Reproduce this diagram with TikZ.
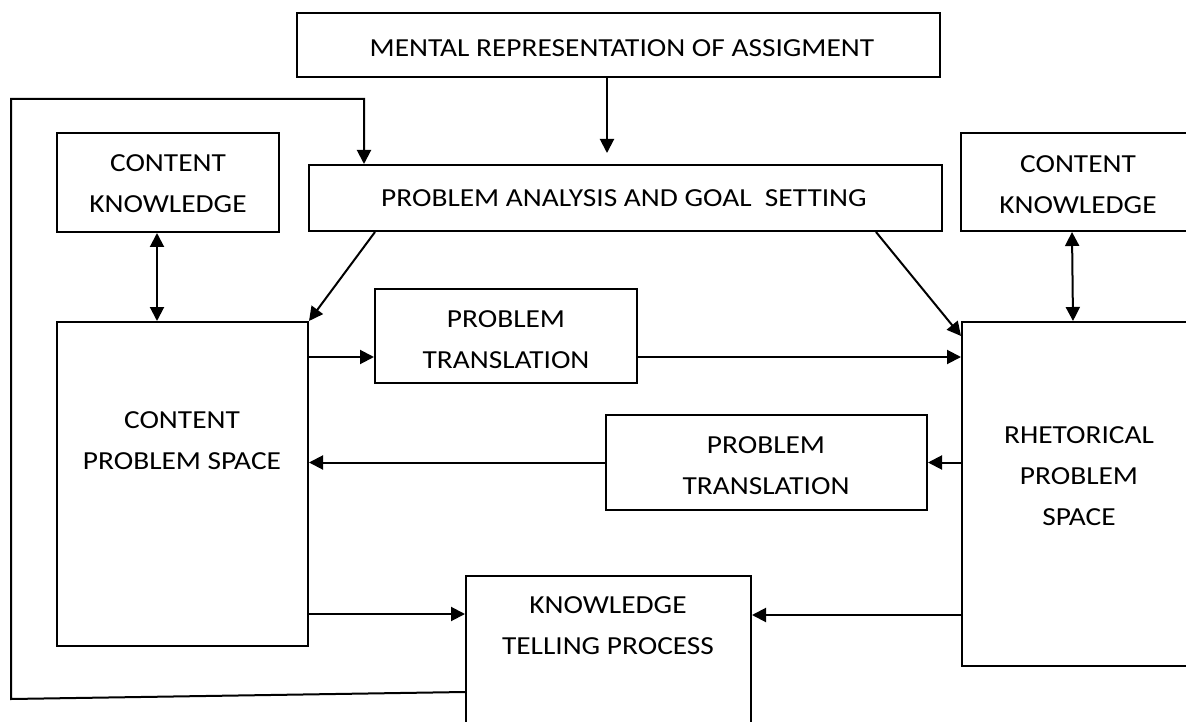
\documentclass[tikz,border=0pt]{standalone}
\usepackage{fontspec}
\setmainfont{Carlito}[FakeStretch=1.13]
\usetikzlibrary{arrows.meta,calc}
\tikzset{
  box/.style={draw, line width=2pt, inner sep=0pt, anchor=center},
  txt/.style={align=center, inner sep=0pt, font=\fontsize{26}{41}\selectfont},
  arr/.style={line width=2pt, -{Triangle[length=14pt,width=14pt]}},
  darr/.style={line width=2pt, {Triangle[length=14pt,width=14pt]}-{Triangle[length=14pt,width=14pt]}},
  ln/.style={line width=2pt}
}
\begin{document}
\begin{tikzpicture}[x=1pt,y=-1pt]
\useasboundingbox (0,0) rectangle (1186,722);
% boxes
\node[box, minimum width=643pt, minimum height=64pt] (mental) at (618.5,45) {};
\node[box, minimum width=633pt, minimum height=66pt] (pa) at (625.5,198) {};
\node[box, minimum width=222pt, minimum height=99pt] (ckl) at (168,182.5) {};
\node[box, minimum width=234pt, minimum height=98pt] (ckr) at (1078,182) {};
\node[box, minimum width=251pt, minimum height=324pt] (cps) at (182.5,484) {};
\node[box, minimum width=262pt, minimum height=94pt] (pt1) at (506,336) {};
\node[box, minimum width=321pt, minimum height=95pt] (pt2) at (766.5,462.5) {};
\node[box, minimum width=233pt, minimum height=344pt] (rps) at (1078.5,494) {};
\node[box, minimum width=285pt, minimum height=184pt] (kt) at (608.5,668) {};
% texts
\node[txt] (tmental) at (622,48) {MENTAL REPRESENTATION OF ASSIGMENT};
\node[txt] (tpa) at (624,198) {PROBLEM ANALYSIS AND GOAL\ \ SETTING};
\node[txt] (tckl) at (168,184) {CONTENT\\KNOWLEDGE};
\node[txt] (tckr) at (1078,185) {CONTENT\\KNOWLEDGE};
\node[txt] (tcps) at (182,441) {CONTENT\\PROBLEM SPACE};
\node[txt] (tpt1) at (506,340) {PROBLEM\\TRANSLATION};
\node[txt] (tpt2) at (766,466) {PROBLEM\\TRANSLATION};
\node[txt] (trps) at (1079,476) {RHETORICAL\\PROBLEM\\SPACE};
\node[txt] (tkt) at (608,626) {KNOWLEDGE\\TELLING PROCESS};
% helper coordinates
\coordinate (lbl) at (11,699);
\coordinate (ltl) at (11,99);
\coordinate (ltr) at (364,99);
\coordinate (mout) at ([xshift=-11.5pt]mental.south);
\coordinate (cklout) at ([xshift=-11pt]ckl.south);
\coordinate (pt1in) at ([yshift=-21pt]pt1.west);
\coordinate (pt1out) at ([yshift=-21pt]pt1.east);
\coordinate (ktinl) at ([yshift=-39pt]kt.north west);
\coordinate (ktinr) at ([yshift=-40pt]kt.north east);
\coordinate (ktloop) at ([yshift=-117pt]kt.north west);
% connectors
\draw[arr, shorten >=11pt] (mout) -- (mout |- pa.north);
\draw[arr] (ktloop) -- (lbl) -- (ltl) -- (ltr) -- (ltr |- pa.north);
\draw[darr] (cklout) -- (cklout |- cps.north);
\draw[darr] ([xshift=-6pt]ckr.south) -- ([xshift=-5.5pt]rps.north);
\draw[arr] ([xshift=-250.5pt]pa.south) -- (cps.north east);
\draw[arr] ([xshift=250.5pt]pa.south) -- ([yshift=-15pt]rps.north west);
\draw[arr] (cps.east |- pt1in) -- (pt1in);
\draw[arr] (pt1out) -- (rps.west |- pt1out);
\draw[arr] (rps.west |- pt2.east) -- (pt2.east);
\draw[arr] (pt2.west) -- (cps.east |- pt2.west);
\draw[arr] (cps.east |- ktinl) -- (ktinl);
\draw[arr] (rps.west |- ktinr) -- (ktinr);
\end{tikzpicture}
\end{document}
